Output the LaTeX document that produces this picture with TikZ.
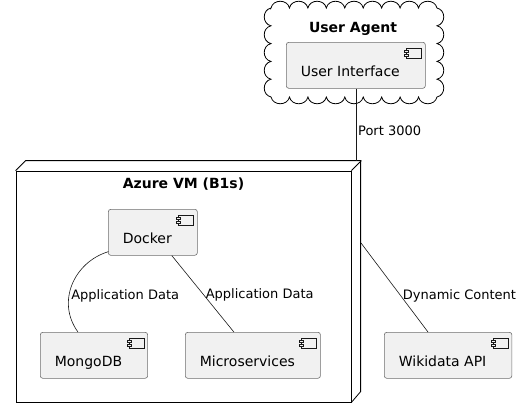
\documentclass[tikz,border=0pt]{standalone}
\usepackage{fontspec}
\setmainfont{DejaVu Sans}
\usepackage{xcolor}
\usetikzlibrary{calc}

\definecolor{compfill}{HTML}{F1F1F1}
\definecolor{compline}{HTML}{181818}
\definecolor{compedge}{HTML}{6E6E6E}

\tikzset{
  comp/.style={draw=compedge, fill=compfill, line width=0.6pt, rounded corners=2.5pt,
    anchor=north west, inner xsep=14.5pt, inner ysep=4pt, text height=30pt, text depth=8pt,
    font=\fontsize{14}{16}\selectfont, execute at end node={\hspace*{11pt}}},
  title/.style={font=\fontsize{14}{16}\selectfont\bfseries},
  lbl/.style={font=\fontsize{13}{15}\selectfont, inner sep=2pt},
  link/.style={draw=compline, line width=0.6pt}
}

% icon in the top right corner of a component
\newcommand\compicon[1]{
  \draw[compline, line width=0.5pt, fill=compfill] ($(#1.north east)+(-19,6)$) rectangle ($(#1.north east)+(-4,16)$);
  \draw[compline, line width=0.5pt, fill=compfill] ($(#1.north east)+(-21,8)$) rectangle ($(#1.north east)+(-17,10)$);
  \draw[compline, line width=0.5pt, fill=compfill] ($(#1.north east)+(-21,12)$) rectangle ($(#1.north east)+(-17,14)$);
}

\begin{document}
\begin{tikzpicture}[x=1pt, y=-1pt]
\useasboundingbox (0,0) rectangle (524,418);

% cloud
\draw[line width=0.8pt, fill=white] (271,8)
  \foreach \i in {0,...,8} { .. controls ({271+\i*18.44+2},-1) and ({271+(\i+1)*18.44-2},-1) .. ({271+(\i+1)*18.44},8) }
  \foreach \i in {0,...,4} { .. controls (446,{8+\i*17.8+2}) and (446,{8+(\i+1)*17.8-2}) .. (437,{8+(\i+1)*17.8}) }
  \foreach \i in {0,...,8} { .. controls ({437-\i*18.44-2},106) and ({437-(\i+1)*18.44+2},106) .. ({437-(\i+1)*18.44},97) }
  \foreach \i in {0,...,4} { .. controls (262,{97-\i*17.8-2}) and (262,{97-(\i+1)*17.8+2}) .. (271,{97-(\i+1)*17.8}) }
  -- cycle;
\node[title] (agent) at (353,28.5) {User Agent};
\node[comp] (ui) at (286,42) {User Interface};

% node
\node[draw, line width=0.8pt, minimum width=335pt, minimum height=231pt, inner sep=0pt] (vm) at (183.5,286.5) {};
\draw[line width=0.8pt] (vm.north west) -- ++(10,-10) -- ++(335,0) -- ++(0,231) -- (vm.south east);
\draw[line width=0.8pt] (vm.north east) -- ++(10,-10);
\node[title] (vmtitle) at (183.5,184) {Azure VM (B1s)};
\coordinate (vmtop) at ($(vm.north)+(0,-10)$);
\coordinate (vmport) at (361,243);

\node[comp] (docker) at (108,209) {Docker};
\node[comp] (mongo) at (40,332) {MongoDB};
\node[comp] (micro) at (185,332) {Microservices};
\node[comp] (wiki) at (384,332) {Wikidata API};

\foreach \n in {ui,docker,mongo,micro,wiki} {
  \compicon{\n}
}

% links
\draw[link] (ui.south) -- (ui.south |- vmtop) node[lbl, pos=0.58, right] {Port 3000};
\draw[link] ($(docker.south west)+(0.5,-4)$) .. controls (74,262) and (56,302) .. ($(mongo.north)+(-16,0)$)
  node[lbl, pos=0.62, right] {Application Data};
\draw[link] ($(docker.south)+(19,0)$) -- ($(micro.north)+(-19,0)$) node[lbl, pos=0.51, right] {Application Data};
\draw[link] (vmport) -- ($(wiki.north west)+(44,0)$) node[lbl, pos=0.59, right] {Dynamic Content};
\end{tikzpicture}
\end{document}
